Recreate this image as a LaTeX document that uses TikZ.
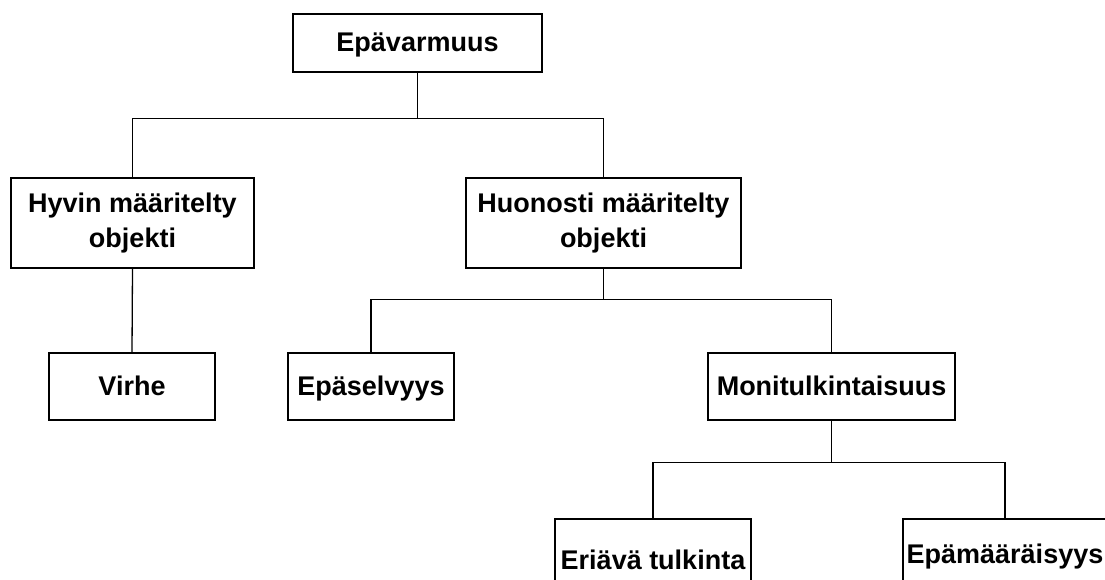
\documentclass[tikz,border=0pt]{standalone}
\usepackage{fontspec}
\setmainfont{Liberation Sans}
\begin{document}
\begin{tikzpicture}[x=1pt,y=-1pt,
    laatikko/.style={draw,line width=1.6pt,align=center,inner sep=0pt,
        font=\fontsize{27}{35}\selectfont\bfseries},
    yksirivi/.style={laatikko,text height=18pt,text depth=0pt},
    yhteys/.style={line width=1.3pt}]
    % Kuvan koko
    \useasboundingbox (0,0) rectangle (1105,580);

    % Laatikot
    \node[yksirivi,minimum width=249pt,minimum height=58pt] (epavarmuus) at (417.5,43) {Epävarmuus};
    \node[laatikko,minimum width=243pt,minimum height=90pt] (hyvin) at (132.5,223) {Hyvin määritelty\\objekti};
    \node[laatikko,minimum width=275pt,minimum height=90pt] (huonosti) at (603.5,223) {Huonosti määritelty\\objekti};
    \node[yksirivi,minimum width=166pt,minimum height=67pt] (virhe) at (132,386.5) {Virhe};
    \node[yksirivi,minimum width=166pt,minimum height=67pt] (epaselvyys) at (371,386.5) {Epäselvyys};
    \node[yksirivi,minimum width=247pt,minimum height=67pt] (moni) at (831.5,386.5) {Monitulkintaisuus};
    \node[yksirivi,minimum width=196pt,minimum height=82pt] (eriava) at (653,560) {Eriävä tulkinta};
    \node[yksirivi,minimum width=204pt,minimum height=70pt] (epamaar) at (1005,554) {Epämääräisyys};

    % Yhteydet
    \draw[yhteys] (epavarmuus.south) -- ++(0,46) coordinate (h1);
    \draw[yhteys] (hyvin.north) |- (h1) -| (huonosti.north);
    \draw[yhteys] (hyvin.south) -- (virhe.north);
    \draw[yhteys] (huonosti.south) -- ++(0,31) coordinate (h2);
    \draw[yhteys] (epaselvyys.north) |- (h2) -| (moni.north);
    \draw[yhteys] (moni.south) -- ++(0,42) coordinate (h3);
    \draw[yhteys] (eriava.north) |- (h3) -| (epamaar.north);
\end{tikzpicture}
\end{document}
